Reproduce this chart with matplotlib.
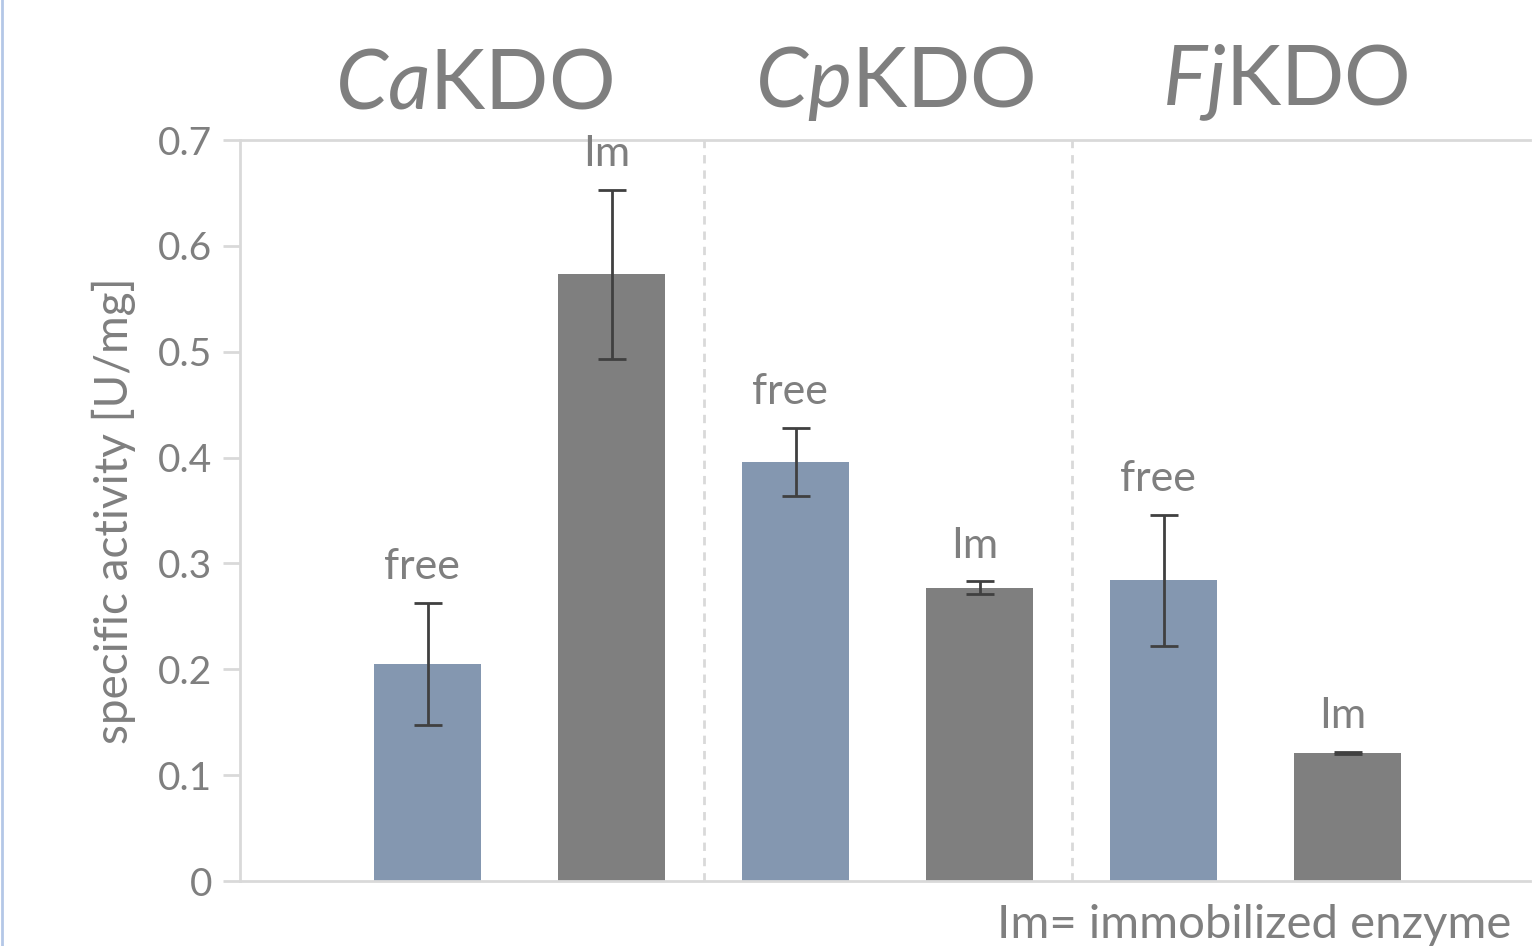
"""Specific activity of free vs immobilized KDO enzymes"""
import matplotlib
matplotlib.use("Agg")
import matplotlib.pyplot as plt
from matplotlib.lines import Line2D

plt.rcParams['font.family'] = ['Lato', 'DejaVu Sans']
plt.rcParams['mathtext.fontset'] = 'custom'
plt.rcParams['mathtext.rm'] = 'Lato'
plt.rcParams['mathtext.it'] = 'Lato:italic'

# data
ENZYMES = ["Ca", "Cp", "Fj"]
STATES = ["free", "Im", "free", "Im", "free", "Im"]
ACTIVITY = [0.205, 0.573, 0.396, 0.277, 0.284, 0.121]
ERRORS = [0.058, 0.080, 0.032, 0.006, 0.062, 0.001]
Y_TICKS = [0, 0.1, 0.2, 0.3, 0.4, 0.5, 0.6, 0.7]
TITLE_X = [0.25, 2.54, 4.66]

BLUE = "#8497B0"
GREY = "#7F7F7F"
TEXT = "#7F7F7F"
LINE = "#D9D9D9"

fig = plt.figure(figsize=(15.33, 9.46), dpi=100)
ax = fig.add_axes([0.1566, 0.0687, 0.8414, 0.7833])

x = list(range(len(ACTIVITY)))
colors = [BLUE if s == "free" else GREY for s in STATES]
ax.bar(x, ACTIVITY, width=0.58, color=colors, zorder=2)
ax.errorbar(x, ACTIVITY, yerr=ERRORS, fmt="none", ecolor="#404040",
            elinewidth=2, capsize=10, capthick=2, zorder=3)

for xi, val, err, lab in zip(x, ACTIVITY, ERRORS, STATES):
    ax.annotate(lab, (xi, val + err), xytext=(-4, 12), textcoords="offset points",
                ha="center", va="bottom", fontsize=31, color=TEXT)

for pos in (1.5, 3.5):
    ax.axvline(pos, color=LINE, lw=2, ls=(0, (3, 2.5)), zorder=1)

ax.set_xlim(-1.02, 5.99)
ax.set_ylim(0, 0.7)
ax.set_yticks(Y_TICKS)
ax.set_yticklabels(["0"] + ["%.1f" % t for t in Y_TICKS[1:]])
ax.set_xticks([])
ax.tick_params(axis="y", length=12, width=2, color=LINE, labelsize=28,
               labelcolor=TEXT, pad=8)
for side in ("left", "bottom", "top"):
    ax.spines[side].set_color(LINE)
    ax.spines[side].set_linewidth(2)
ax.spines["right"].set_visible(False)
ax.set_ylabel("specific activity [U/mg]", fontsize=33, color=TEXT, labelpad=16)

# group titles, italic species prefix
for cx, name in zip(TITLE_X, ENZYMES):
    ax.text(cx, 0.716, r"$\mathit{%s}\mathrm{KDO}$" % name, fontsize=60,
            color=TEXT, ha="center", va="bottom")

fig.text(0.986, 0.0, "Im= immobilized enzyme", fontsize=34, color=TEXT,
         ha="right", va="bottom")

fig.add_artist(Line2D([0.001, 0.001], [0, 1], transform=fig.transFigure,
                      color="#B4C7E7", lw=2))

fig.savefig("out.png", dpi=100)
